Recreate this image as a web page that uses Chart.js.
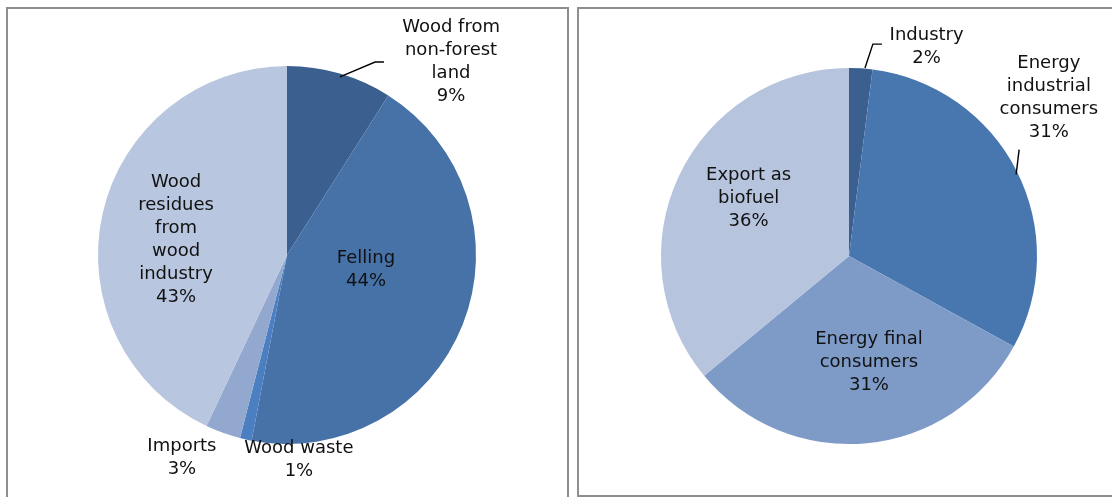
<!DOCTYPE html>
<html>
<head>
<meta charset="utf-8">
<script src="https://cdn.jsdelivr.net/npm/chart.js@4/dist/chart.umd.min.js"></script>
<style>
  html, body { margin: 0; padding: 0; background: #ffffff; width: 1112px; height: 497px; overflow: hidden; position: relative; }
  .panel { position: absolute; border: 2px solid #8e8e8e; box-sizing: border-box; background: #fff; }
  #p1 { left: 6px; top: 7px; width: 563px; height: 500px; }
  #p2 { left: 577px; top: 7px; width: 600px; height: 490px; }
  canvas { position: absolute; left: 0; top: 0; pointer-events: none; }
</style>
</head>
<body>
<div class="panel" id="p1"></div>
<div class="panel" id="p2"></div>
<canvas id="c1" width="1112" height="497"></canvas>
<canvas id="c2" width="1112" height="497"></canvas>
<script>
// ---- data ----
const leftCategories = ['Wood from non-forest land', 'Felling', 'Wood waste', 'Imports', 'Wood residues from wood industry'];
const leftValues = [9, 44, 1, 3, 43];
const leftLabelLines = [['Wood from', 'non-forest', 'land'], ['Felling'], ['Wood waste'], ['Imports'], ['Wood', 'residues', 'from', 'wood', 'industry']];

const rightCategories = ['Industry', 'Energy industrial consumers', 'Energy final consumers', 'Export as biofuel'];
const rightValues = [2, 31, 31, 36];
const rightLabelLines = [['Industry'], ['Energy', 'industrial', 'consumers'], ['Energy final', 'consumers'], ['Export as', 'biofuel']];

// ---- styles / layout ----
const leftColors = ['#3b5f8f', '#4672a8', '#4b7fc1', '#93a8cf', '#b9c6df'];
const rightColors = ['#3b5f8f', '#4877b0', '#7e9bc8', '#b6c4de'];

// label centres, in units of radius relative to pie centre
const leftLabelPos = [[0.868, -1.021], [0.418, 0.079], [0.063, 1.085], [-0.556, 1.074], [-0.587, -0.079]];
const rightLabelPos = [[0.413, -1.11], [1.063, -0.841], [0.106, 0.566], [-0.534, -0.307]];
// leader lines (polyline points relative to centre, in radius units)
const leftLeaders = [[[0.280, -0.942], [0.466, -1.021], [0.513, -1.021]]];
const rightLeaders = [[[0.085, -1.0], [0.127, -1.127], [0.175, -1.127]], [[0.889, -0.434], [0.905, -0.566]]];

const FONT = '18px "DejaVu Sans", Verdana, sans-serif';
const LINE_H = 23;
const W = 1112, H = 497;

const labelPlugin = {
  id: 'pieLabels',
  afterDatasetsDraw(chart, args, opts) {
    const ctx = chart.ctx;
    const meta = chart.getDatasetMeta(0);
    const arc0 = meta.data[0];
    const cx = arc0.x, cy = arc0.y, r = arc0.outerRadius;
    ctx.save();
    // leader lines
    ctx.strokeStyle = '#000';
    ctx.lineWidth = 1.4;
    opts.leaders.forEach(pts => {
      ctx.beginPath();
      pts.forEach((p, i) => {
        const x = cx + p[0] * r, y = cy + p[1] * r;
        if (i === 0) ctx.moveTo(x, y); else ctx.lineTo(x, y);
      });
      ctx.stroke();
    });
    ctx.fillStyle = '#111111';
    ctx.font = FONT;
    ctx.textAlign = 'center';
    ctx.textBaseline = 'middle';
    const values = chart.data.datasets[0].data;
    opts.lines.forEach((lines, i) => {
      const all = lines.concat([values[i] + '%']);
      const px = cx + opts.pos[i][0] * r;
      const py = cy + opts.pos[i][1] * r;
      all.forEach((t, k) => {
        ctx.fillText(t, px, py + (k - (all.length - 1) / 2) * LINE_H);
      });
    });
    ctx.restore();
  }
};

function makePie(id, cats, vals, colors, cx, cy, r, lines, pos, leaders) {
  return new Chart(document.getElementById(id), {
    type: 'pie',
    data: {
      labels: cats,
      datasets: [{ data: vals, backgroundColor: colors, borderWidth: 0, hoverOffset: 0 }]
    },
    options: {
      responsive: false,
      animation: false,
      devicePixelRatio: 1,
      rotation: 0,
      layout: { padding: { left: cx - r, right: W - (cx + r), top: cy - r, bottom: H - (cy + r) } },
      plugins: {
        legend: { display: false },
        tooltip: { enabled: false },
        title: { display: false },
        pieLabels: { lines: lines, pos: pos, leaders: leaders }
      }
    },
    plugins: [labelPlugin]
  });
}

makePie('c1', leftCategories, leftValues, leftColors, 287, 255, 189, leftLabelLines, leftLabelPos, leftLeaders);
makePie('c2', rightCategories, rightValues, rightColors, 849, 256, 188, rightLabelLines, rightLabelPos, rightLeaders);
</script>
</body>
</html>
